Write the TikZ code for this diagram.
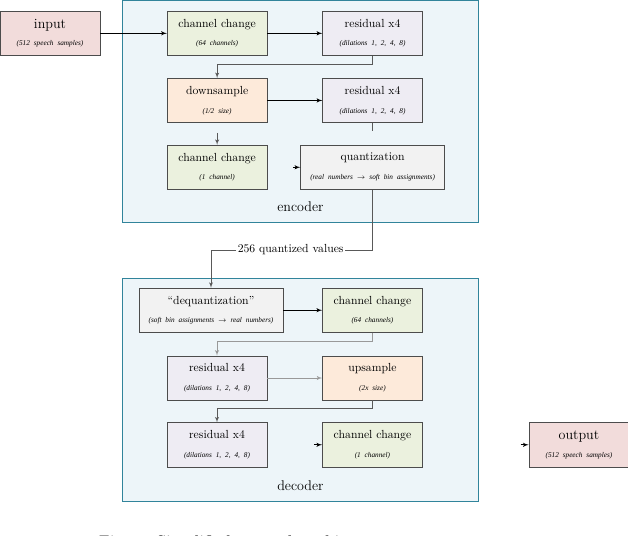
\documentclass[tikz,border=0pt]{standalone}
\usepackage{fontspec}
\usetikzlibrary{arrows,positioning,calc}
\newfontfamily\notefont{Liberation Serif}
\definecolor{iopink}{HTML}{F2DCDB}
\definecolor{chgreen}{HTML}{EBF1DE}
\definecolor{reslilac}{HTML}{EEECF3}
\definecolor{smpeach}{HTML}{FDEADA}
\definecolor{qgray}{HTML}{F2F2F2}
\definecolor{framefill}{HTML}{EDF5F9}
\definecolor{frameline}{HTML}{31849B}
\newcommand{\boxnote}[1]{{\notefont\fontsize{6.2}{7}\selectfont\itshape #1}}
\tikzset{
    %Define standard arrow tip
    >=latex',
    %Define style for boxes
    box/.style={
           rectangle,
           draw=black!70, thin,
           text width=2.8cm,
           minimum height=1.33cm,
           inner sep=0.1cm,
           align=center},
    widebox/.style={
           box,
           text width=4.12cm},
    % Define style for the encoder and decoder frames
    frame/.style={
           rectangle,
           draw=frameline,
           fill=framefill,
           line width=0.8pt,
           minimum width=10.68cm,
           anchor=north west},
    % Define arrow style
    imply/.style={
           ->,
           line width=0.7pt},
    link/.style={
           ->,
           line width=0.6pt,
           draw=black!65},
    faint/.style={
           ->,
           line width=0.6pt,
           draw=black!40}
}

\begin{document}
\begin{tikzpicture}
 \useasboundingbox (0,0) rectangle (18.84,-16.08);
 \clip (0,0) rectangle (18.84,-16.08);
 %frames
    \node[frame, minimum height=6.66cm] (enc) at (3.66,0) {};
    \node[frame, minimum height=6.69cm] (dec) at (3.66,-8.34) {};
    \node[font=\large, above=0.2cm of enc.south] (enclabel) {encoder};
    \node[font=\large, above=0.22cm of dec.south] (declabel) {decoder};
 %encoder nodes
    \node[box, fill=iopink] (input) at (1.5,-1.0) {{\large input}\\[3pt]\boxnote{(512 speech samples)}};
    \node[box, fill=chgreen, right=2cm of input] (cc1) {channel change\\[4pt]\boxnote{(64 channels)}};
    \node[box, fill=reslilac, right=1.65cm of cc1] (res1) {residual x4\\[4pt]\boxnote{(dilations 1, 2, 4, 8)}};
    \node[box, fill=smpeach, below=0.67cm of cc1] (down) {downsample\\[4pt]\boxnote{(1/2 size)}};
    \node[box, fill=reslilac, right=1.65cm of down] (res2) {residual x4\\[4pt]\boxnote{(dilations 1, 2, 4, 8)}};
    \node[box, fill=chgreen, below=0.66cm of down] (cc2) {channel change\\[4pt]\boxnote{(1 channel)}};
    \node[widebox, fill=qgray, below=0.66cm of res2] (quant) {quantization\\[4pt]\boxnote{(real numbers $\rightarrow$ soft bin assignments)}};
    \node[inner sep=1pt] (qv) at (8.72,-7.5) {256 quantized values};
 %decoder nodes
    \node[box, fill=reslilac] (res3) at (6.51,-11.34) {residual x4\\[4pt]\boxnote{(dilations 1, 2, 4, 8)}};
    \node[box, fill=smpeach, right=1.65cm of res3] (up) {upsample\\[4pt]\boxnote{(2x size)}};
    \node[box, fill=chgreen, above=0.69cm of up] (cc3) {channel change\\[4pt]\boxnote{(64 channels)}};
    \node[widebox, fill=qgray, left=1.17cm of cc3] (dequant) {``dequantization''\\[4pt]\boxnote{(soft bin assignments $\rightarrow$ real numbers)}};
    \node[box, fill=reslilac, below=0.66cm of res3] (res4) {residual x4\\[4pt]\boxnote{(dilations 1, 2, 4, 8)}};
    \node[box, fill=chgreen, right=1.65cm of res4] (cc4) {channel change\\[4pt]\boxnote{(1 channel)}};
    \node[box, fill=iopink, right=3.18cm of cc4] (output) {{\large output}\\[3pt]\boxnote{(512 speech samples)}};
 %caption
    \node[anchor=base west, font=\fontsize{13}{15}\selectfont\bfseries] (caption) at (2.85,-16.39) {Fig. 1: Simplified network architecture.};
 %edges
    \draw[imply] (input) -- (cc1);
    \draw[imply] (cc1) -- (res1);
    \draw[link] (res1.south) -- ++(0,-0.26) -| (down.north);
    \draw[imply] (down) -- (res2);
    \draw[link, -] (res2.south) -- ++(0,-0.25) coordinate (res2end);
    \draw[link] ($(cc2.north)+(0,0.36)$) coordinate (cc2start) -- (cc2.north);
    \draw[imply] ($(quant.west)+(-0.21,0)$) coordinate (quantstart) -- (quant.west);
    \draw[link, -] (quant.south) |- (qv.east);
    \draw[link] (qv.west) -| (dequant.north);
    \draw[imply] (dequant) -- (cc3);
    \draw[faint] (cc3.south) -- ++(0,-0.26) -| (res3.north);
    \draw[faint] (res3) -- (up);
    \draw[link] (up.south) -- ++(0,-0.25) -| (res4.north);
    \draw[imply] ($(cc4.west)+(-0.25,0)$) coordinate (cc4start) -- (cc4.west);
    \draw[imply] ($(output.west)+(-0.24,0)$) coordinate (outstart) -- (output.west);
\end{tikzpicture}
\end{document}
